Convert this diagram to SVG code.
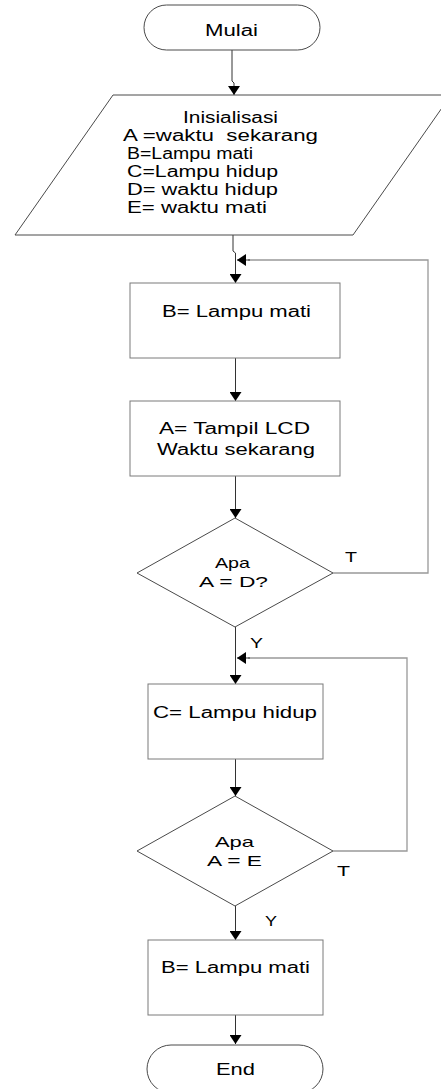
<svg xmlns="http://www.w3.org/2000/svg" width="441" height="1089" viewBox="0 0 441 1089">
<defs>
<marker id="arr" markerUnits="userSpaceOnUse" markerWidth="12" markerHeight="12" refX="9" refY="6" orient="auto">
<path d="M0,0 L9,6 L0,12 Z" fill="#000"/>
</marker>
<style>
.t{font-family:"Liberation Sans",Arial,sans-serif;fill:#000;white-space:pre;}
.box{fill:#fff;stroke:#7a7a7a;stroke-width:1;}
.dk{fill:#fff;stroke:#4a4a4a;stroke-width:1;}
.c{fill:none;stroke:#333;stroke-width:1;}
.fb{fill:none;stroke:#999;stroke-width:1.3;}
</style>
</defs>
<rect width="441" height="1089" fill="#fff"/>
<g id="connectors">
<path class="c" d="M232 50 V81 L234 83 V95" marker-end="url(#arr)"/>
<path class="c" d="M233 235 V251 L235.5 253 V283" marker-end="url(#arr)"/>
<path class="fb" d="M333 573 H428 V260 H248"/>
<path class="c" d="M250 260 H237" marker-end="url(#arr)"/>
<path class="c" d="M235.5 358 V401" marker-end="url(#arr)"/>
<path class="c" d="M235.5 476 V518" marker-end="url(#arr)"/>
<path class="c" d="M235.5 627 V684" marker-end="url(#arr)"/>
<path class="fb" d="M333 851 H407 V658 H248"/>
<path class="c" d="M250 658 H237" marker-end="url(#arr)"/>
<path class="c" d="M235.5 759 V796" marker-end="url(#arr)"/>
<path class="c" d="M235.5 906 V940" marker-end="url(#arr)"/>
<path class="c" d="M235.5 1015 V1044" marker-end="url(#arr)"/>
</g>
<g id="mulai">
<rect class="dk" x="144" y="5" width="176" height="45" rx="22.5" ry="22.5"/>
<text class="t" x="205" y="36" font-size="16" textLength="53" lengthAdjust="spacingAndGlyphs">Mulai</text>
</g>
<g id="inisialisasi">
<path class="dk" d="M113 95 H451 L353 235 H15 Z"/>
<text class="t" x="183" y="123" font-size="16" textLength="95" lengthAdjust="spacingAndGlyphs">Inisialisasi</text>
<text class="t" x="123" y="141" font-size="16" textLength="195" lengthAdjust="spacingAndGlyphs" xml:space="preserve">A =waktu  sekarang</text>
<text class="t" x="127" y="159" font-size="16" textLength="126" lengthAdjust="spacingAndGlyphs">B=Lampu mati</text>
<text class="t" x="127" y="177" font-size="16" textLength="151" lengthAdjust="spacingAndGlyphs">C=Lampu hidup</text>
<text class="t" x="127" y="195" font-size="16" textLength="151" lengthAdjust="spacingAndGlyphs">D= waktu hidup</text>
<text class="t" x="127" y="213" font-size="16" textLength="140" lengthAdjust="spacingAndGlyphs">E= waktu mati</text>
</g>
<g id="lampu-mati-1">
<rect class="box" x="130" y="283" width="210" height="75"/>
<text class="t" x="162" y="317" font-size="16" textLength="149" lengthAdjust="spacingAndGlyphs">B= Lampu mati</text>
</g>
<g id="tampil-lcd">
<rect class="box" x="130" y="401" width="210" height="75"/>
<text class="t" x="159" y="434" font-size="16" textLength="151" lengthAdjust="spacingAndGlyphs">A= Tampil LCD</text>
<text class="t" x="157" y="455" font-size="16" textLength="158" lengthAdjust="spacingAndGlyphs">Waktu sekarang</text>
</g>
<g id="decision-1">
<path class="dk" d="M235 518 L333 573 L235 627 L137 573 Z"/>
<text class="t" x="215" y="568" font-size="15" textLength="35" lengthAdjust="spacingAndGlyphs">Apa</text>
<text class="t" x="199" y="587" font-size="15" textLength="69" lengthAdjust="spacingAndGlyphs">A = D?</text>
<text class="t" x="345" y="562" font-size="14" textLength="12" lengthAdjust="spacingAndGlyphs">T</text>
<text class="t" x="250" y="648" font-size="14" textLength="13" lengthAdjust="spacingAndGlyphs">Y</text>
</g>
<g id="lampu-hidup">
<rect class="box" x="148" y="684" width="175" height="75"/>
<text class="t" x="153" y="718" font-size="16" textLength="164" lengthAdjust="spacingAndGlyphs">C= Lampu hidup</text>
</g>
<g id="decision-2">
<path class="dk" d="M235 796 L333 851 L235 906 L137 851 Z"/>
<text class="t" x="215" y="847" font-size="15" textLength="39" lengthAdjust="spacingAndGlyphs">Apa</text>
<text class="t" x="207" y="866" font-size="15" textLength="55" lengthAdjust="spacingAndGlyphs">A = E</text>
<text class="t" x="337" y="876" font-size="14" textLength="13" lengthAdjust="spacingAndGlyphs">T</text>
<text class="t" x="265" y="926" font-size="14" textLength="12" lengthAdjust="spacingAndGlyphs">Y</text>
</g>
<g id="lampu-mati-2">
<rect class="box" x="148" y="940" width="175" height="75"/>
<text class="t" x="161" y="973" font-size="16" textLength="149" lengthAdjust="spacingAndGlyphs">B= Lampu mati</text>
</g>
<g id="end">
<rect class="dk" x="147" y="1045" width="176" height="48" rx="24" ry="24"/>
<text class="t" x="216" y="1075" font-size="16" textLength="39" lengthAdjust="spacingAndGlyphs">End</text>
</g>
</svg>
